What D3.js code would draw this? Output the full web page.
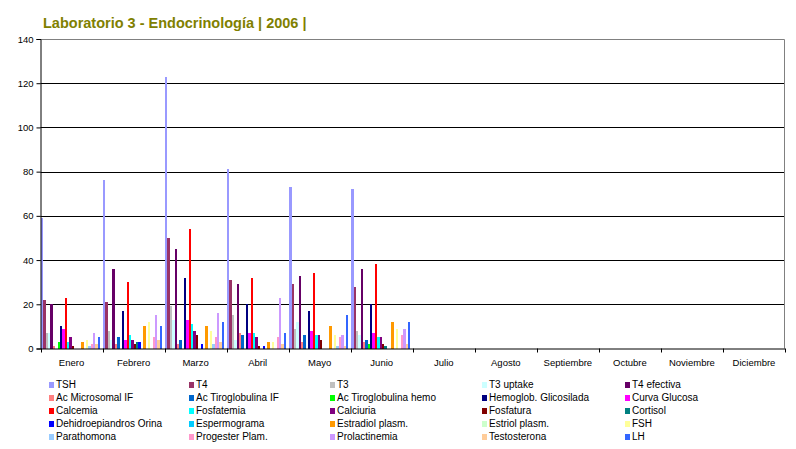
<!DOCTYPE html>
<html>
<head>
<meta charset="utf-8">
<script src="https://cdn.jsdelivr.net/npm/d3@7"></script>
<style>
  body { margin: 0; background: #fff; }
  text { font-family: "Liberation Sans", Arial, sans-serif; }
</style>
</head>
<body>
<div id="chart"></div>
<script>
// Meses (categorías)
const months = ["Enero", "Febrero", "Marzo", "Abril", "Mayo", "Junio",
  "Julio", "Agosto", "Septiembre", "Octubre", "Noviembre", "Diciembre"];

// Series (orden de la leyenda)
const seriesNames = ["TSH", "T4", "T3", "T3 uptake", "T4 efectiva",
  "Ac Microsomal IF", "Ac Tiroglobulina IF", "Ac Tiroglobulina hemo", "Hemoglob. Glicosilada", "Curva Glucosa",
  "Calcemia", "Fosfatemia", "Calciuria", "Fosfatura", "Cortisol",
  "Dehidroepiandros Orina", "Espermograma", "Estradiol plasm.", "Estriol plasm.", "FSH",
  "Parathomona", "Progester Plam.", "Prolactinemia", "Testosterona", "LH"];

const seriesColors = ["#9999FF", "#993366", "#C0C0C0", "#CCFFFF", "#660066",
  "#FF8080", "#0066CC", "#00FF00", "#000080", "#FF00FF",
  "#FF0000", "#00FFFF", "#800080", "#800000", "#008080",
  "#0000FF", "#00CCFF", "#FF9900", "#CCFFCC", "#FFFF99",
  "#99CCFF", "#FF99CC", "#CC99FF", "#FFCC99", "#3366FF"];

// Valores por mes (uno por serie, mismo orden que seriesNames)
const valEnero   = [59, 22, 7, 7, 20, 1, 0, 3, 10, 9, 23, 3, 5, 1, 0, 0, 0, 3, 0, 4, 1, 2, 7, 2, 5];
const valFebrero = [76, 21, 8, 4, 36, 2, 5, 0, 17, 4, 30, 6, 4, 2, 3, 3, 0, 10, 0, 12, 0, 5, 15, 4, 10];
const valMarzo   = [123, 50, 19, 13, 45, 2, 4, 0, 32, 13, 54, 11, 8, 6, 0, 2, 0, 10, 0, 8, 2, 5, 16, 3, 12];
const valAbril   = [81, 31, 15, 4, 29, 7, 6, 0, 20, 7, 32, 7, 5, 1, 0, 1, 0, 3, 0, 3, 0, 5, 23, 2, 7];
const valMayo    = [73, 29, 9, 12, 33, 3, 6, 0, 17, 8, 34, 6, 6, 4, 0, 0, 0, 10, 0, 6, 1, 5, 6, 1, 15];
const valJunio   = [72, 28, 8, 6, 36, 3, 4, 2, 20, 7, 38, 5, 5, 2, 1, 0, 0, 12, 0, 9, 0, 6, 9, 2, 12];

const monthValues = [valEnero, valFebrero, valMarzo, valAbril, valMayo, valJunio];

const yTicks = [0, 20, 40, 60, 80, 100, 120, 140];

// dimensiones
const W = 796, H = 449;
const plot = { left: 40.5, right: 785, top: 39, bottom: 348.5 };

const svg = d3.select("#chart").append("svg")
  .attr("width", W)
  .attr("height", H);

// titulo
svg.append("text")
  .attr("x", 43)
  .attr("y", 28)
  .attr("font-size", "14.5px")
  .attr("font-weight", "bold")
  .attr("fill", "#808000")
  .text("Laboratorio 3 - Endocrinología | 2006 |");

// escalas
const x0 = d3.scaleBand()
  .domain(months)
  .range([plot.left, plot.right])
  .padding(0);

const x1 = d3.scaleBand()
  .domain(seriesNames)
  .range([0, x0.bandwidth() * 0.952])
  .padding(0);

const y = d3.scaleLinear()
  .domain([0, 140])
  .range([plot.bottom, plot.top]);

// lineas de la grilla
svg.append("g")
  .selectAll("line")
  .data(yTicks.filter(d => d > 0 && d < 140))
  .enter()
  .append("line")
  .attr("x1", plot.left)
  .attr("x2", plot.right)
  .attr("y1", d => Math.round(y(d)) + 0.5)
  .attr("y2", d => Math.round(y(d)) + 0.5)
  .attr("stroke", "#000")
  .attr("stroke-width", 1);

// borde gris del area
svg.append("path")
  .attr("d", `M${plot.left},${plot.top + 0.5}H${plot.right - 0.5}V${plot.bottom}`)
  .attr("fill", "none")
  .attr("stroke", "#808080")
  .attr("stroke-width", 1);

// barras
const rows = [];
monthValues.forEach((vals, mi) => {
  vals.forEach((v, si) => {
    rows.push({ month: months[mi], serie: seriesNames[si], color: seriesColors[si], value: v });
  });
});

svg.append("g")
  .selectAll("rect")
  .data(rows.filter(d => d.value > 0))
  .enter()
  .append("rect")
  .attr("x", d => x0(d.month) + 0.5 + x1(d.serie))
  .attr("y", d => y(d.value))
  .attr("width", x1.bandwidth())
  .attr("height", d => plot.bottom - y(d.value))
  .attr("fill", d => d.color)
  .attr("shape-rendering", "crispEdges");

// eje Y
const yAxis = svg.append("g")
  .attr("transform", `translate(${plot.left},0)`)
  .call(d3.axisLeft(y).tickValues(yTicks).tickSize(4).tickPadding(3));
yAxis.selectAll("line").attr("stroke", "#000");
yAxis.select(".domain").attr("stroke", "#000");
yAxis.selectAll("text")
  .attr("font-size", "9.5px")
  .attr("fill", "#000")
  .style("font-family", "'Liberation Sans', Arial, sans-serif");

// eje X
const xAxis = svg.append("g")
  .attr("transform", `translate(0,${plot.bottom})`)
  .call(d3.axisBottom(x0).tickSize(0).tickPadding(11));
xAxis.select(".domain").attr("stroke", "#000").attr("d", `M${plot.left},0.5H${plot.right}`);
xAxis.selectAll("text")
  .attr("font-size", "9.5px")
  .attr("fill", "#000")
  .style("font-family", "'Liberation Sans', Arial, sans-serif");

// marcas entre meses
svg.append("g")
  .selectAll("line")
  .data(months.concat(["_fin"]))
  .enter()
  .append("line")
  .attr("x1", (d, i) => Math.round(plot.left + i * x0.bandwidth()) + 0.5)
  .attr("x2", (d, i) => Math.round(plot.left + i * x0.bandwidth()) + 0.5)
  .attr("y1", plot.bottom)
  .attr("y2", plot.bottom + 4)
  .attr("stroke", "#000");

// leyenda
const legendCols = [56, 196, 337, 489, 632];
const legend = svg.append("g")
  .selectAll("g")
  .data(seriesNames)
  .enter()
  .append("g")
  .attr("transform", (d, i) => `translate(${legendCols[i % 5]},${388 + Math.floor(i / 5) * 13})`);

legend.append("rect")
  .attr("x", -7)
  .attr("y", -6)
  .attr("width", 5)
  .attr("height", 6)
  .attr("fill", (d, i) => seriesColors[i]);

legend.append("text")
  .attr("x", 0)
  .attr("y", 0)
  .attr("font-size", "10px")
  .attr("fill", "#000")
  .text(d => d);
</script>
</body>
</html>
